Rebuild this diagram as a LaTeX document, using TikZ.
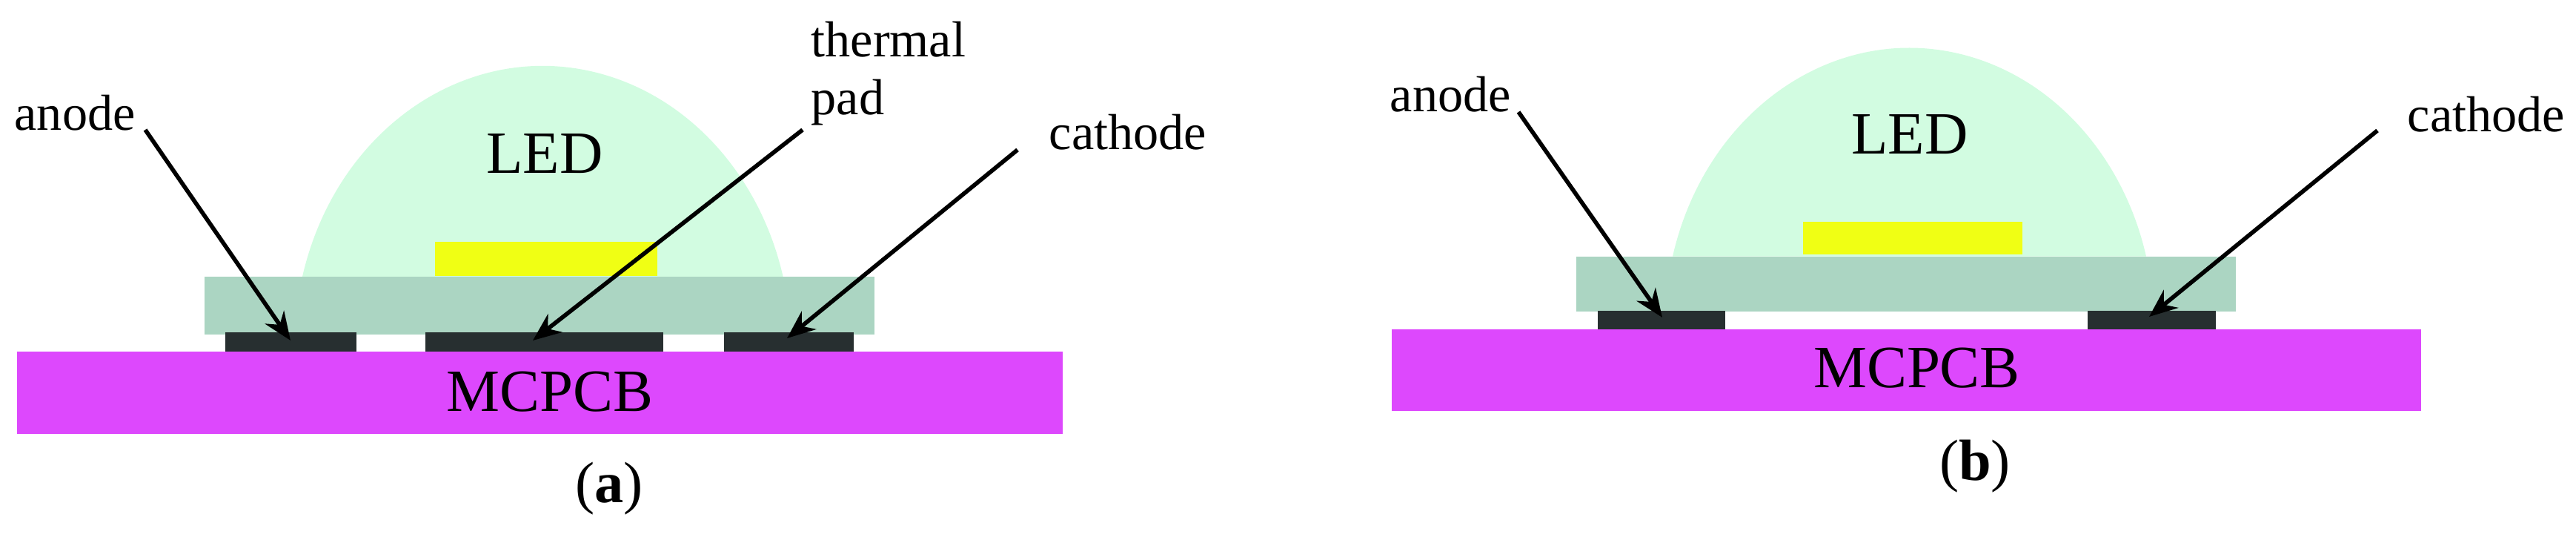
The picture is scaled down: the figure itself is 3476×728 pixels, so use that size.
\documentclass[tikz,border=0pt]{standalone}
\usepackage{fontspec}
\setmainfont{Liberation Serif}
\usetikzlibrary{arrows.meta}
\definecolor{boardcol}{HTML}{DD48FD}
\definecolor{basecol}{HTML}{ABD5C2}
\definecolor{domecol}{HTML}{D2FCE1}
\definecolor{chipcol}{HTML}{F0FF14}
\definecolor{padcol}{HTML}{272F30}
\begin{document}
\begin{tikzpicture}[x=0.01cm, y=0.01cm]
      \tikzset{boardfill/.style={fill=boardcol}, basefill/.style={fill=basecol}, domefill/.style={fill=domecol},
        chipfill/.style={fill=chipcol}, padfill/.style={fill=padcol},
        tag/.style={inner sep=0pt, anchor=base west, font=\fontsize{19.4pt}{22pt}\selectfont},
        bigtext/.style={inner sep=0pt, anchor=base, font=\fontsize{23pt}{26pt}\selectfont},
        captext/.style={inner sep=0pt, anchor=base, font=\fontsize{22.3pt}{26pt}\selectfont},
        pointer/.style={line width=1.6pt, -{Stealth[length=0.38cm, width=0.31cm]}}}
      \useasboundingbox (0,0) rectangle (3476,728);
%% Panel a
	%shapes
		\fill[domefill] (408,355) arc[start angle=165.5, end angle=14.5, x radius=335, y radius=379] -- cycle;
		\fill[chipfill] (587,356) rectangle (887,402);
		\fill[basefill] (275.5,277) rectangle (1180,355);
		\fill[padfill] (304,254) rectangle (481,279.5);
		\fill[padfill] (574,254) rectangle (895,279.5);
		\fill[padfill] (977,254) rectangle (1152,279.5);
		\fill[boardfill] (23,143) rectangle (1434,254);
	%labels
		\node[bigtext] (leda) at (735,494) {LED};
		\node[bigtext] (pcba) at (742,173) {MCPCB};
		\node[tag] (anodea) at (19,552) {anode};
		\node[tag] (thermala) at (1094,651) {thermal};
		\node[tag] (pada) at (1094,573) {pad};
		\node[tag] (cathodea) at (1415,526) {cathode};
		\node[captext] (capa) at (822,50) {(\textbf{a})};
	%arrows
		\coordinate (anodetaila) at (196,553);
		\coordinate (anodetipa) at (392,269);
		\coordinate (thermaltaila) at (1083,553);
		\coordinate (thermaltipa) at (719,269);
		\coordinate (cathodetaila) at (1373,526);
		\coordinate (cathodetipa) at (1062,272);
		\path [pointer] (anodetaila) edge (anodetipa);
		\path [pointer] (thermaltaila) edge (thermaltipa);
		\path [pointer] (cathodetaila) edge (cathodetipa);
%% Panel b
	%shapes
		\fill[domefill] (2257,382.3) arc[start angle=165.5, end angle=14.5, x radius=330, y radius=375] -- cycle;
		\fill[chipfill] (2433,385.3) rectangle (2728.5,428.7);
		\fill[basefill] (2127,308) rectangle (3017,382.3);
		\fill[padfill] (2156,283.7) rectangle (2328,308.5);
		\fill[padfill] (2817,283.7) rectangle (2990,308.5);
		\fill[boardfill] (1878,174) rectangle (3267,283.7);
	%labels
		\node[bigtext] (ledb) at (2577,520) {LED};
		\node[bigtext] (pcbb) at (2586.5,205) {MCPCB};
		\node[tag] (anodeb) at (1875,577) {anode};
		\node[tag] (cathodeb) at (3248,550) {cathode};
		\node[captext] (capb) at (2665,80) {(\textbf{b})};
	%arrows
		\coordinate (anodetailb) at (2049,577);
		\coordinate (anodetipb) at (2243,300);
		\coordinate (cathodetailb) at (3208,552);
		\coordinate (cathodetipb) at (2900,301);
		\path [pointer] (anodetailb) edge (anodetipb);
		\path [pointer] (cathodetailb) edge (cathodetipb);

\end{tikzpicture}
\end{document}
